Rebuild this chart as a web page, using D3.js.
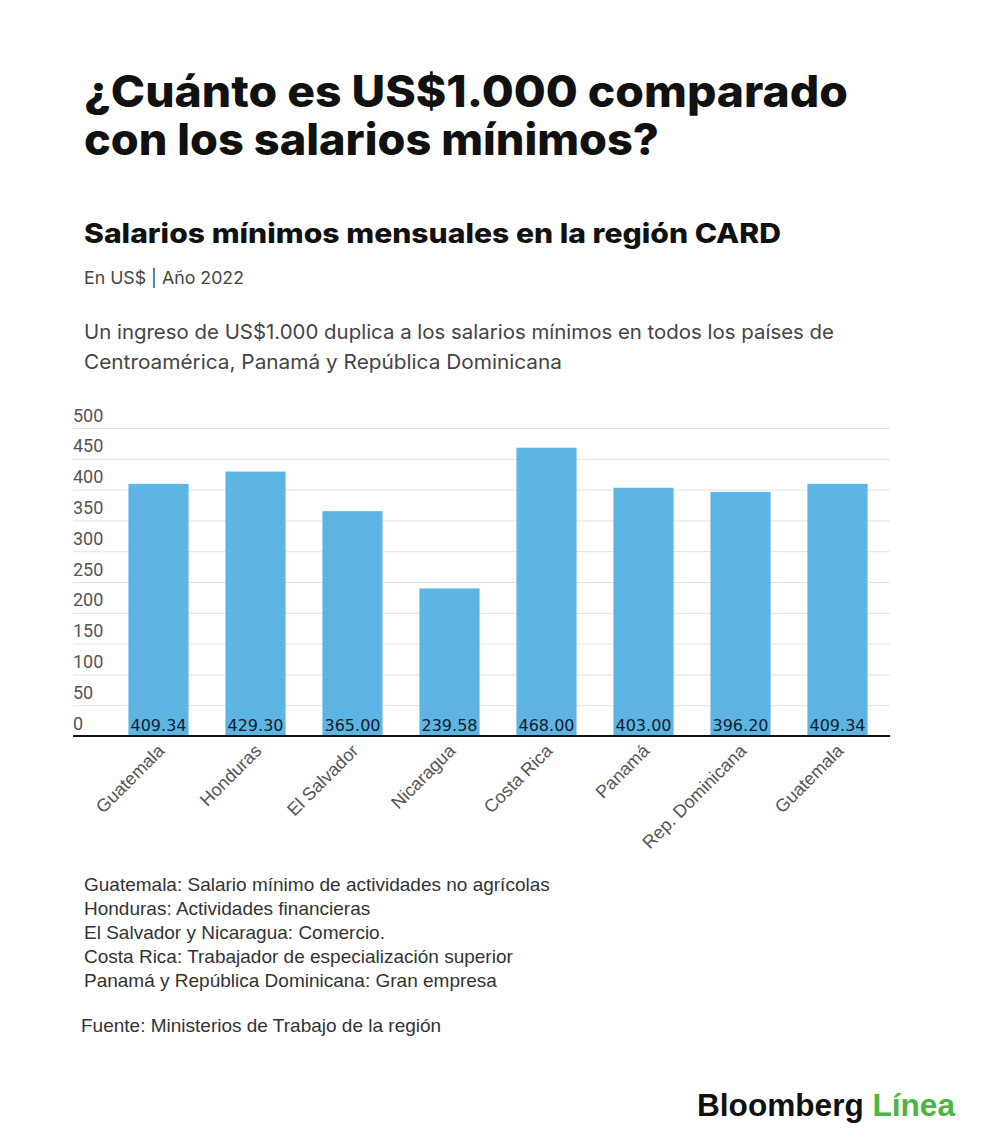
<!DOCTYPE html>
<html>
<head>
<meta charset="utf-8">
<script src="https://cdn.jsdelivr.net/npm/d3@7"></script>
<style>
  body { margin: 0; background: #fff; }
  svg { display: block; }
</style>
</head>
<body>
<div id="chart"></div>
<script>
// data
const countries = ["Guatemala", "Honduras", "El Salvador", "Nicaragua", "Costa Rica", "Panamá", "Rep. Dominicana", "Guatemala"];
const salaries = [409.34, 429.30, 365.00, 239.58, 468.00, 403.00, 396.20, 409.34];
const yTicks = [0, 50, 100, 150, 200, 250, 300, 350, 400, 450, 500];

const titleLines = ["¿Cuánto es US$1.000 comparado", "con los salarios mínimos?"];
const subtitle = "Salarios mínimos mensuales en la región CARD";
const unitLine = "En US$ | Año 2022";
const descLines = ["Un ingreso de US$1.000 duplica a los salarios mínimos en todos los países de",
                   "Centroamérica, Panamá y República Dominicana"];
const notes = ["Guatemala: Salario mínimo de actividades no agrícolas",
               "Honduras: Actividades financieras",
               "El Salvador y Nicaragua: Comercio.",
               "Costa Rica: Trabajador de especialización superior",
               "Panamá y República Dominicana: Gran empresa"];
const source = "Fuente: Ministerios de Trabajo de la región";

let settings = {
  width: 1000,
  height: 1147,
  gridLeft: 73,
  gridRight: 890,
  bandLeft: 110,
  bandRight: 886,
  top: 428,     // y of 500
  bottom: 736,  // y of 0
  barColor: "#5eb4e3",
};

const svg = d3.select("#chart").append("svg")
    .attr("width", settings.width)
    .attr("height", settings.height)
    .attr("viewBox", [0, 0, settings.width, settings.height]);

svg.append("rect").attr("width", settings.width).attr("height", settings.height).attr("fill", "#fff");

// squeeze a text line to a measured width (the original uses a narrow grotesque)
function fit(sel, w) {
  sel.attr("textLength", w).attr("lengthAdjust", "spacingAndGlyphs");
}

// headings
svg.selectAll(".title").data(titleLines).join("text")
    .attr("x", 84).attr("y", (d, i) => 107 + i * 48)
    .attr("font-family", "Inter, sans-serif").attr("font-weight", 800)
    .attr("font-size", 44).attr("fill", "#111")
    .text(d => d)
    .each(function(d, i) { fit(d3.select(this), i == 0 ? 764 : 575); });

svg.append("text")
    .attr("x", 84).attr("y", 243)
    .attr("font-family", "Inter, sans-serif").attr("font-weight", 800)
    .attr("font-size", 27).attr("fill", "#111")
    .text(subtitle)
    .call(fit, 697);

svg.append("text")
    .attr("x", 84).attr("y", 284)
    .attr("font-family", "Inter, sans-serif")
    .attr("font-size", 17).attr("fill", "#444")
    .text(unitLine)
    .call(fit, 160);

svg.selectAll(".desc").data(descLines).join("text")
    .attr("x", 84).attr("y", (d, i) => 339 + i * 30)
    .attr("font-family", "Inter, sans-serif")
    .attr("font-size", 20).attr("fill", "#444")
    .text(d => d)
    .each(function(d, i) { fit(d3.select(this), i == 0 ? 750 : 478); });

// scales
const x = d3.scaleBand(countries.map((d, i) => i), [settings.bandLeft, settings.bandRight])
    .paddingInner(0.38).paddingOuter(0.19);
const y = d3.scaleLinear([0, 500], [settings.bottom, settings.top]);

// gridlines + y labels (labels sit above their line)
const yAxis = d3.axisLeft(y).tickValues(yTicks)
    .tickSize(-(settings.gridRight - settings.gridLeft)).tickFormat(d3.format("d"));
const gy = svg.append("g")
    .attr("class", "yaxis")
    .attr("transform", `translate(${settings.gridLeft},0)`)
    .call(yAxis);
gy.select(".domain").remove();
gy.selectAll(".tick line").attr("stroke", "#e2e2e2").attr("stroke-width", 1);
gy.selectAll(".tick text")
    .attr("x", 0).attr("dy", -7)
    .attr("text-anchor", "start")
    .attr("font-family", "Roboto, sans-serif").attr("font-size", 18).attr("fill", "#555");

// bars
svg.append("g").selectAll("rect").data(salaries).join("rect")
    .attr("x", (d, i) => x(i))
    .attr("y", d => y(d))
    .attr("width", x.bandwidth())
    .attr("height", d => y(0) - y(d))
    .attr("fill", settings.barColor);

// value labels at the foot of each bar
svg.append("g").selectAll("text").data(salaries).join("text")
    .attr("x", (d, i) => x(i) + x.bandwidth() / 2)
    .attr("y", y(0) - 5)
    .attr("text-anchor", "middle")
    .attr("font-family", "'DejaVu Sans', sans-serif").attr("font-size", 16)
    .attr("fill", "#161e2a")
    .text(d => d.toFixed(2));

// x axis: baseline and rotated labels
const xAxis = d3.axisBottom(x).tickSize(0).tickFormat(i => countries[i]);
const gx = svg.append("g")
    .attr("class", "xaxis")
    .attr("transform", `translate(0,${settings.bottom})`)
    .call(xAxis);
gx.select(".domain").remove();
gx.append("line")
    .attr("x1", settings.gridLeft).attr("x2", settings.gridRight)
    .attr("stroke", "#111").attr("stroke-width", 2);
gx.selectAll(".tick text")
    .attr("y", 0).attr("dy", 0)
    .attr("transform", "translate(7,16) rotate(-45)")
    .attr("text-anchor", "end")
    .attr("font-family", "'Liberation Sans', Arial, sans-serif").attr("font-size", 18)
    .attr("fill", "#555");

// notes and source
svg.selectAll(".note").data(notes).join("text")
    .attr("x", 84).attr("y", (d, i) => 891 + i * 24)
    .attr("font-family", "'Liberation Sans', Arial, sans-serif")
    .attr("font-size", 19).attr("fill", "#333")
    .text(d => d);

svg.append("text")
    .attr("x", 81).attr("y", 1032)
    .attr("font-family", "'Liberation Sans', Arial, sans-serif")
    .attr("font-size", 19).attr("fill", "#333")
    .text(source);

// logo
const logo = svg.append("text")
    .attr("x", 697).attr("y", 1116)
    .attr("font-family", "'Liberation Sans', Arial, sans-serif").attr("font-weight", 700)
    .attr("font-size", 31);
logo.append("tspan").attr("fill", "#111").text("Bloomberg ");
logo.append("tspan").attr("fill", "#4bb543").text("Línea");
logo.attr("textLength", 258).attr("lengthAdjust", "spacingAndGlyphs");
</script>
</body>
</html>
